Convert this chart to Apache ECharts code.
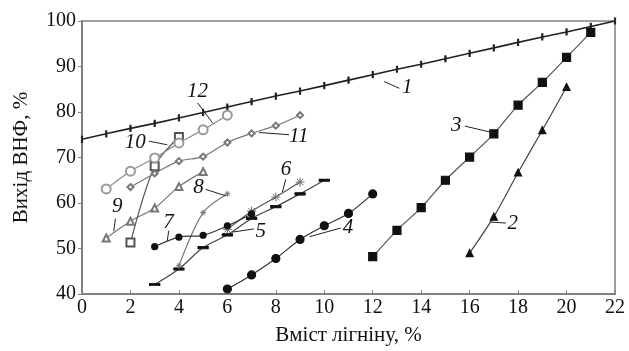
<!DOCTYPE html>
<html>
<head>
<meta charset="utf-8">
<script src="https://cdn.jsdelivr.net/npm/echarts@6/dist/echarts.min.js"></script>
<style>
  html, body { margin: 0; padding: 0; background: #fff; }
  #chart { width: 629px; height: 351px; }
</style>
</head>
<body>
<div id="chart"></div>
<script>
// x ticks / y ticks
const xTicks = [0, 2, 4, 6, 8, 10, 12, 14, 16, 18, 20, 22];
const yTicks = [40, 50, 60, 70, 80, 90, 100];

// крива 1 (теоретична)
const s1 = [[0,74],[1,75.2],[2,76.4],[3,77.5],[4,78.7],[5,79.9],[6,81.1],[7,82.3],[8,83.5],[9,84.6],[10,85.8],
  [11,87],[12,88.2],[13,89.4],[14,90.5],[15,91.7],[16,92.9],[17,94.1],[18,95.3],[19,96.5],[20,97.6],[21,98.8],[22,100]];
const s2 = [[16,49],[17,57],[18,66.7],[19,76],[20,85.5]];
const s3 = [[12,48.2],[13,54],[14,59],[15,65],[16,70.1],[17,75.2],[18,81.5],[19,86.5],[20,92],[21,97.5]];
const s4 = [[6,41.1],[7,44.2],[8,47.8],[9,52],[10,55],[11,57.7],[12,62]];
const s5 = [[3,42.1],[4,45.5],[5,50.2],[6,53],[7,56.6],[8,59.2],[9,62],[10,65]];
const s6 = [[6,54.2],[7,58.2],[8,61.3],[9,64.6]];
const s7 = [[3,50.4],[4,52.5],[5,52.9],[6,55],[7,57.6]];
const s8 = [[4,46.2],[5,57.9],[6,62]];
const s9 = [[1,52.3],[2,56],[3,58.9],[4,63.6],[5,66.9]];
const s10 = [[2,51.3],[3,68.1],[4,74.5]];
const s11 = [[2,63.5],[3,66.5],[4,69.2],[5,70.2],[6,73.3],[7,75.3],[8,77],[9,79.3]];
const s12 = [[1,63.1],[2,67],[3,69.9],[4,73.2],[5,76.1],[6,79.3]];

// номери кривих: текст [x,y], лінія від -> до
const notes = [
  ['1', [13.42, 85.4], [12.47, 86.7], [13.1, 85.2]],
  ['2', [17.78, 55.4], [16.85, 55.8], [17.5, 55.6]],
  ['3', [15.45, 77.0], [15.8, 76.9], [17.0, 75.4]],
  ['4', [10.98, 54.7], [9.4, 52.6], [10.68, 54.5]],
  ['5', [7.38, 53.8], [6.2, 53.6], [7.1, 54.3]],
  ['6', [8.42, 67.4], [8.41, 65.2], [8.27, 62.4]],
  ['7', [3.57, 55.8], [3.58, 53.9], [3.52, 51.7]],
  ['8', [4.81, 63.4], [5.1, 63.0], [5.93, 61.6]],
  ['9', [1.46, 59.3], [1.38, 56.6], [1.31, 53.8]],
  ['10', [2.2, 73.3], [2.76, 73.6], [3.52, 72.8]],
  ['11', [8.95, 74.6], [8.55, 75.0], [7.31, 75.5]],
  ['12', [4.77, 84.4], [4.77, 82.0], [5.39, 77.6]]
];

const FONT = '"Liberation Serif", "DejaVu Serif", serif';
const DARK = '#222';
const GREY = '#777';
const star = 'path://M0,-10L0,10M-10,0L10,0M-7,-7L7,7M-7,7L7,-7';

function line(data, opts) {
  const col = opts.color;
  const mk = opts.mark || col;
  return {
    type: 'line',
    data: data,
    smooth: opts.smooth === undefined ? 0.3 : opts.smooth,
    symbol: opts.symbol,
    symbolSize: opts.size,
    showAllSymbol: true,
    lineStyle: { color: col, width: opts.width || 1.2 },
    itemStyle: opts.item || { color: mk, borderColor: mk, borderWidth: 1.2 },
    z: opts.z || 2,
    animation: false
  };
}

const chart = echarts.init(document.getElementById('chart'));
chart.setOption({
  animation: false,
  grid: { left: 82, right: 14, top: 21, bottom: 56, show: true, borderColor: '#808080', borderWidth: 1.5 },
  xAxis: {
    type: 'value', min: xTicks[0], max: xTicks[xTicks.length - 1], interval: 2,
    name: 'Вміст лігніну, %', nameLocation: 'middle', nameGap: 31,
    nameTextStyle: { fontFamily: FONT, fontSize: 21, color: '#111' },
    axisLine: { lineStyle: { color: '#808080', width: 2 } },
    axisTick: { inside: true, length: 4, lineStyle: { color: '#808080' } },
    axisLabel: { fontFamily: FONT, fontSize: 20, color: '#111', margin: 4 },
    splitLine: { show: false }
  },
  yAxis: {
    type: 'value', min: yTicks[0], max: yTicks[yTicks.length - 1], interval: 10,
    name: 'Вихід ВНФ, %', nameLocation: 'middle', nameGap: 50, nameRotate: 90,
    nameTextStyle: { fontFamily: FONT, fontSize: 21, color: '#111' },
    axisLine: { show: true, lineStyle: { color: '#808080', width: 2 } },
    axisTick: { show: true, length: 4, lineStyle: { color: '#808080' } },
    axisLabel: { fontFamily: FONT, fontSize: 20, color: '#111', margin: 6 },
    splitLine: { show: false }
  },
  series: [
    line(s1, { color: DARK, symbol: 'rect', size: [1.5, 5], smooth: false, width: 1.6 }),
    line(s2, { color: '#444', mark: '#111', symbol: 'triangle', size: 7 }),
    line(s3, { color: '#555', mark: '#111', symbol: 'rect', size: 8 }),
    line(s4, { color: '#333', mark: '#111', symbol: 'circle', size: 8, z: 3 }),
    line(s5, { color: '#444', mark: '#111', symbol: 'rect', size: [9, 2.5] }),
    line(s6, { color: '#555', symbol: star, size: 9, item: { color: 'none', borderColor: '#666', borderWidth: 1 } }),
    line(s7, { color: '#333', mark: '#111', symbol: 'circle', size: 6, z: 3 }),
    line(s8, { color: GREY, symbol: star, size: 6, item: { color: 'none', borderColor: GREY, borderWidth: 1 } }),
    line(s9, { color: GREY, symbol: 'emptyTriangle', size: 7 }),
    line(s10, { color: '#555', symbol: 'emptyRect', size: 8 }),
    line(s11, { color: GREY, symbol: 'emptyDiamond', size: 6 }),
    line(s12, { color: '#888', symbol: 'emptyCircle', size: 9, item: { color: '#999', borderColor: '#999', borderWidth: 1.5 } })
  ]
});

// підписи кривих
const px = p => chart.convertToPixel({ gridIndex: 0 }, p);
const gfx = [];
notes.forEach(n => {
  const t = px(n[1]), a = px(n[2]), b = px(n[3]);
  gfx.push({
    type: 'line', shape: { x1: a[0], y1: a[1], x2: b[0], y2: b[1] },
    style: { stroke: '#222', lineWidth: 1 }, z: 10
  });
  gfx.push({
    type: 'text', x: t[0], y: t[1], z: 10,
    style: { text: n[0], fontFamily: FONT, fontStyle: 'italic', fontSize: 21, fill: '#111', align: 'center', verticalAlign: 'middle' }
  });
});
chart.setOption({ graphic: gfx });
</script>
</body>
</html>
